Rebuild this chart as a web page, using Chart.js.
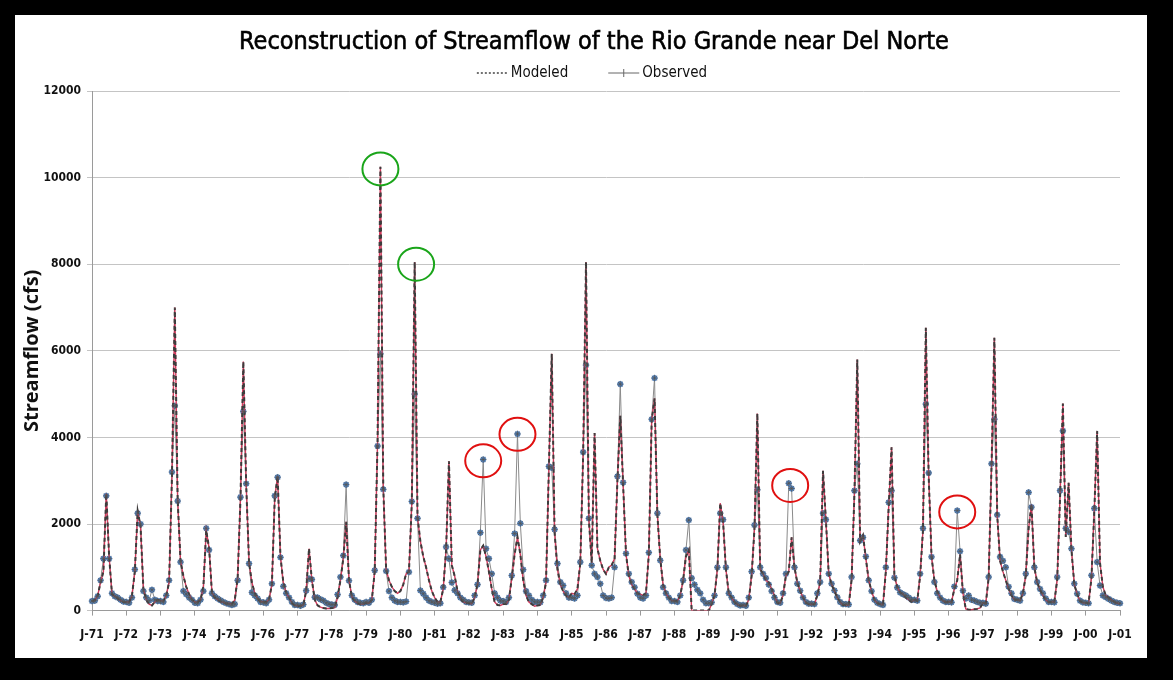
<!DOCTYPE html>
<html>
<head>
<meta charset="utf-8">
<script src="https://cdn.jsdelivr.net/npm/chart.js@4.4.1/dist/chart.umd.min.js"></script>
<style>
html,body{margin:0;padding:0;background:#000;width:1173px;height:680px;overflow:hidden;}
#panel{position:absolute;left:15px;top:15px;width:1132px;height:643px;background:#fff;}
#c{position:absolute;left:15px;top:15px;width:1154px;height:643px;}
</style>
</head>
<body>
<div id="panel"></div>
<canvas id="c" width="1154" height="643"></canvas>
<script>
// ---------------- DATA ----------------
const chartTitle = 'Reconstruction of Streamflow of the Rio Grande near Del Norte';
const yAxisTitle = 'Streamflow (cfs)';
const seriesNames = ['Modeled', 'Observed'];
const firstYear = 1971;
const lastYear = 2000;            // monthly data Jan 1971 .. Jan 2001
const monthCodes = ['J','F','M','A','M','J','J','A','S','O','N','D'];
const yTicks = [0, 2000, 4000, 6000, 8000, 10000, 12000];

// Observed monthly streamflow (cfs), one row per year, Jan..Dec
const observed = [
  220, 230, 330, 700, 1200, 2650, 1200, 400, 330, 300, 250, 210,   // 1971
  200, 180, 300, 950, 2250, 2000, 450, 300, 230, 480, 250, 220,    // 1972
  220, 200, 350, 700, 3200, 4730, 2530, 1120, 450, 380, 300, 250,  // 1973
  180, 170, 250, 450, 1900, 1400, 400, 330, 280, 240, 200, 170,    // 1974
  150, 130, 150, 700, 2620, 4600, 2930, 1085, 420, 350, 280, 200,  // 1975
  190, 170, 250, 620, 2650, 3080, 1230, 560, 400, 300, 200, 130,   // 1976
  130, 110, 140, 460, 740, 720, 310, 300, 260, 230, 180, 150,      // 1977
  140, 130, 370, 775, 1270, 2910, 690, 350, 250, 200, 180, 170,    // 1978
  200, 180, 250, 930, 3800, 5930, 2800, 915, 450, 300, 230, 200,   // 1979
  200, 190, 210, 890, 2520, 5000, 2130, 465, 390, 300, 230, 200,   // 1980
  180, 160, 170, 540, 1470, 1200, 650, 470, 400, 300, 250, 200,    // 1981
  190, 180, 350, 600, 1800, 3490, 1430, 1200, 850, 400, 300, 230,  // 1982
  220, 200, 300, 810, 1780, 4080, 2015, 945, 450, 350, 250, 200,   // 1983
  200, 190, 350, 700, 3330, 3300, 1875, 1085, 660, 580, 400, 300,  // 1984
  300, 280, 350, 1120, 3660, 5670, 2130, 1045, 850, 775, 620, 350, // 1985
  290, 280, 300, 1000, 3100, 5230, 2960, 1320, 850, 660, 540, 390, // 1986
  300, 280, 350, 1340, 4420, 5370, 2250, 1160, 540, 400, 300, 220, // 1987
  220, 200, 350, 700, 1400, 2090, 750, 600, 480, 400, 250, 170,    // 1988
  170, 190, 350, 1000, 2250, 2100, 1000, 400, 300, 200, 150, 120,  // 1989
  130, 110, 300, 900, 1975, 2790, 1000, 850, 750, 600, 450, 300,   // 1990
  200, 180, 400, 850, 2940, 2820, 1000, 620, 460, 300, 200, 160,   // 1991
  160, 150, 400, 660, 2250, 2100, 850, 620, 465, 310, 200, 150,    // 1992
  150, 140, 775, 2770, 3390, 1620, 1690, 1250, 700, 450, 250, 180, // 1993
  150, 130, 1000, 2500, 2770, 760, 530, 420, 380, 350, 300, 250,   // 1994
  250, 230, 850, 1900, 4770, 3180, 1240, 660, 400, 300, 230, 200,  // 1995
  200, 190, 555, 2310, 1370, 460, 280, 350, 250, 230, 200, 180,    // 1996
  180, 160, 775, 3390, 4420, 2210, 1240, 1150, 1000, 550, 400, 270,// 1997
  250, 230, 400, 850, 2730, 2390, 1000, 660, 500, 400, 280, 200,   // 1998
  200, 190, 775, 2770, 4150, 1900, 1820, 1430, 620, 390, 230, 190, // 1999
  180, 170, 815, 2360, 1120, 580, 350, 310, 270, 230, 200, 180,    // 2000
  170                                                               // Jan 2001
];

// Modeled (reconstructed) monthly streamflow (cfs)
const modeled = [
  220, 240, 350, 650, 900, 2700, 1250, 380, 330, 280, 230, 200,    // 1971
  200, 200, 350, 900, 2300, 1950, 500, 250, 150, 120, 200, 250,    // 1972
  230, 220, 350, 650, 3100, 7000, 2550, 1150, 800, 550, 380, 250,  // 1973
  200, 190, 250, 550, 1850, 1450, 420, 300, 250, 210, 190, 160,    // 1974
  170, 150, 250, 750, 2600, 5750, 2900, 1100, 650, 400, 280, 200,  // 1975
  210, 190, 260, 600, 2600, 3100, 1250, 650, 420, 300, 180, 120,   // 1976
  110, 100, 130, 450, 1430, 700, 250, 120, 80, 60, 50, 50,         // 1977
  60, 70, 300, 700, 1200, 2050, 700, 320, 220, 170, 150, 150,      // 1978
  180, 170, 250, 900, 3900, 10250, 2850, 950, 700, 550, 450, 400,  // 1979
  450, 600, 850, 900, 2500, 8050, 2150, 1600, 1250, 1000, 700, 450,// 1980
  300, 200, 200, 500, 1400, 3450, 1050, 800, 450, 300, 200, 180,   // 1981
  170, 160, 300, 600, 1400, 1500, 1250, 900, 500, 200, 130, 120,   // 1982
  150, 150, 250, 750, 1300, 1700, 1300, 700, 350, 200, 150, 100,   // 1983
  120, 130, 300, 650, 3300, 5930, 1800, 950, 600, 450, 350, 300,   // 1984
  400, 380, 500, 1100, 3600, 8050, 2100, 1100, 4100, 1430, 1150, 950, // 1985
  850, 1000, 1050, 1200, 3000, 4500, 2900, 1300, 800, 600, 500, 400,  // 1986
  380, 350, 400, 1300, 4400, 4900, 2200, 1200, 600, 400, 300, 230, // 1987
  230, 220, 350, 700, 1250, 1400, 0, 0, 0, 0, 0, 0,                // 1988
  0, 150, 350, 950, 2480, 2050, 950, 390, 300, 200, 140, 110,      // 1989
  120, 110, 250, 800, 1900, 4550, 950, 850, 700, 650, 500, 350,    // 1990
  180, 170, 350, 800, 900, 1690, 1000, 650, 450, 300, 180, 150,    // 1991
  140, 150, 350, 650, 3230, 2100, 850, 600, 450, 300, 200, 130,    // 1992
  130, 130, 700, 2700, 5800, 1600, 1740, 1200, 700, 450, 250, 170, // 1993
  150, 140, 900, 2400, 3770, 800, 550, 420, 380, 300, 250, 200,    // 1994
  250, 220, 800, 1850, 6530, 3100, 1250, 700, 450, 300, 230, 190,  // 1995
  210, 200, 500, 700, 1300, 400, 40, 20, 20, 30, 40, 60,           // 1996
  180, 170, 750, 3300, 6300, 2200, 1150, 900, 700, 500, 350, 250,  // 1997
  250, 230, 400, 800, 1900, 2450, 1000, 650, 480, 350, 250, 200,   // 1998
  200, 200, 700, 2600, 4780, 1700, 2950, 1400, 600, 380, 220, 180, // 1999
  180, 170, 750, 2300, 4150, 1100, 550, 350, 300, 250, 200, 170,   // 2000
  160                                                               // Jan 2001
];

// highlighted peaks (circled in the picture): year, month position (1 = Jan), flow value, colour
const highlightYears  = [1979, 1980, 1982, 1983, 1991, 1996];
const highlightMonths = [6, 6.5, 6, 6, 5.5, 4];
const highlightValues = [10200, 8000, 3460, 4070, 2890, 2280];
const highlightColors = ['#1aa51a', '#1aa51a', '#e01010', '#e01010', '#e01010', '#e01010'];

// category labels: one per month, e.g. "J-71"
const labels = [];
for (let y = firstYear; y <= lastYear; y++) {
  for (let m = 0; m < 12; m++) labels.push(monthCodes[m] + '-' + String(y % 100).padStart(2, '0'));
}
labels.push('J-' + String((lastYear + 1) % 100).padStart(2, '0'));

// ---------------- STYLE ----------------
const narrow = "'Liberation Sans Narrow','DejaVu Sans Condensed','Roboto Condensed','Liberation Sans',sans-serif";
const gridGray = '#c4c4c4';
const axisGray = '#9a9a9a';

// title + legend drawn centred on the canvas (dashed sample, line-with-cross sample)
const headerPlugin = {
  id: 'sketchHeader',
  afterDraw(chart) {
    const ctx = chart.ctx;
    ctx.save();
    ctx.font = '25px ' + narrow;
    ctx.fillStyle = '#000';
    ctx.strokeStyle = '#000';
    ctx.lineWidth = 0.6;
    ctx.textAlign = 'center';
    ctx.textBaseline = 'middle';
    const tx = chart.width / 2 + 2;
    ctx.fillText(chartTitle, tx, 27);
    ctx.strokeText(chartTitle, tx, 27);
    ctx.textAlign = 'left';
    ctx.font = '15px ' + narrow;
    const sampleW = 31, gapText = 3, gapItem = 40;
    const w0 = ctx.measureText(seriesNames[0]).width;
    const w1 = ctx.measureText(seriesNames[1]).width;
    const total = sampleW + gapText + w0 + gapItem + sampleW + gapText + w1;
    let x = chart.width / 2 - total / 2;
    const y = 58;
    ctx.strokeStyle = '#444';
    ctx.lineWidth = 1.3;
    ctx.setLineDash([2, 2]);
    ctx.beginPath(); ctx.moveTo(x, y); ctx.lineTo(x + sampleW, y); ctx.stroke();
    ctx.setLineDash([]);
    ctx.fillStyle = '#111';
    ctx.fillText(seriesNames[0], x + sampleW + gapText, y);
    x += sampleW + gapText + w0 + gapItem;
    ctx.strokeStyle = '#666';
    ctx.lineWidth = 1;
    ctx.beginPath(); ctx.moveTo(x, y); ctx.lineTo(x + sampleW, y); ctx.stroke();
    const cx = x + sampleW / 2;
    ctx.beginPath(); ctx.moveTo(cx, y - 4); ctx.lineTo(cx, y + 4); ctx.stroke();
    ctx.fillText(seriesNames[1], x + sampleW + gapText, y);
    ctx.restore();
  }
};

// circles around highlighted peaks, positioned through the chart's own scales
const circlePlugin = {
  id: 'peakCircles',
  afterDatasetsDraw(chart) {
    const xs = chart.scales.x, ys = chart.scales.y, ctx = chart.ctx;
    const step = xs.getPixelForValue(1) - xs.getPixelForValue(0);
    ctx.save();
    ctx.lineWidth = 2;
    highlightYears.forEach((yr, i) => {
      const idx = (yr - firstYear) * 12 + (highlightMonths[i] - 1);
      const px = xs.getPixelForValue(Math.floor(idx)) + (idx - Math.floor(idx)) * step;
      const py = ys.getPixelForValue(highlightValues[i]);
      ctx.strokeStyle = highlightColors[i];
      ctx.beginPath();
      ctx.ellipse(px, py, 18, 16.5, 0, 0, Math.PI * 2);
      ctx.stroke();
    });
    ctx.restore();
  }
};

new Chart(document.getElementById('c'), {
  type: 'line',
  data: {
    labels: labels,
    datasets: [
      { // observed star markers on top
        label: seriesNames[1] + ' marks', data: observed, showLine: false,
        pointStyle: 'star', pointRadius: 3.2, pointBorderWidth: 1,
        pointBorderColor: 'rgba(85,85,85,0.75)', pointBackgroundColor: 'rgba(0,0,0,0)', order: 1
      },
      { // modeled dark dashes
        label: seriesNames[0], data: modeled, borderColor: '#3c3c3c', borderWidth: 2,
        borderDash: [4, 3], pointRadius: 0, tension: 0, order: 2
      },
      { // modeled red under-line
        label: seriesNames[0] + ' red', data: modeled, borderColor: '#d23a5c', borderWidth: 1.4,
        pointRadius: 0, tension: 0, order: 3
      },
      { // observed gray line + blue circles
        label: seriesNames[1], data: observed, borderColor: '#8a8a8a', borderWidth: 1,
        pointStyle: 'circle', pointRadius: 2.8, pointBorderWidth: 0.5,
        pointBackgroundColor: '#5189cc', pointBorderColor: '#4276b8', tension: 0, order: 4
      }
    ]
  },
  options: {
    responsive: false,
    animation: false,
    events: [],
    layout: { padding: { left: 0, right: 49, top: 76, bottom: 4 } },
    plugins: {
      legend: { display: false },
      tooltip: { enabled: false },
      title: { display: false }
    },
    scales: {
      x: {
        type: 'category',
        grid: {
          drawOnChartArea: false, drawTicks: true, tickLength: 5,
          color: (c) => (c.index % 12 === 0 ? axisGray : 'rgba(0,0,0,0)')
        },
        border: { color: axisGray, width: 1 },
        ticks: {
          autoSkip: false, maxRotation: 0, minRotation: 0, padding: 12,
          color: '#111', font: { family: narrow, size: 12, weight: 'bold' },
          callback: function (v, i) { return i % 12 === 0 ? this.getLabelForValue(v) : ''; }
        }
      },
      y: {
        min: yTicks[0], max: yTicks[yTicks.length - 1],
        afterBuildTicks: (s) => { s.ticks = yTicks.map(v => ({ value: v })); },
        afterFit: (s) => { s.width = 77; },
        grid: { color: gridGray, tickLength: 5, drawTicks: true },
        border: { color: axisGray, width: 1 },
        ticks: {
          padding: 6, color: '#111', font: { family: narrow, size: 12, weight: 'bold' },
          callback: (v) => String(v)
        },
        title: {
          display: true, text: yAxisTitle, color: '#111',
          font: { family: "'Open Sans','DejaVu Sans',sans-serif", size: 20, weight: 'bold' },
          padding: { top: 5, bottom: 0 }
        }
      }
    }
  },
  plugins: [headerPlugin, circlePlugin]
});
</script>
</body>
</html>
